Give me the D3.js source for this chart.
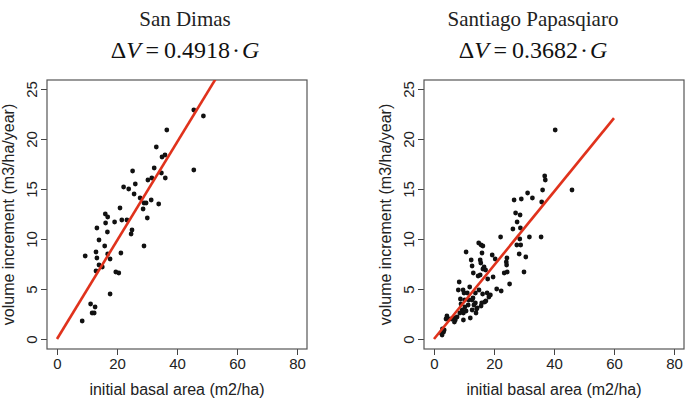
<!DOCTYPE html>
<html><head><meta charset="utf-8">
<script src="https://cdn.jsdelivr.net/npm/d3@7"></script>
<style>body{margin:0;background:#fff}svg{display:block}</style>
</head><body>
<script>
// Data
const xTicks = [0, 20, 40, 60, 80];
const yTicks = [0, 5, 10, 15, 20, 25];
const titles = ["San Dimas", "Santiago Papasqiaro"];
const coefs = ["0.4918", "0.3682"];
const slopes = [0.4918, 0.3682];
const lineEnds = [60, 60];
const xLabel = "initial basal area (m2/ha)";
const yLabel = "volume increment (m3/ha/year)";

const sanDimasG = [8.4,11.2,12.7,11.7,12.4,17.7,9.4,13.0,13.3,14.0,13.0,15.1,16.9,17.7,15.9,14.0,13.3,16.8,16.2,16.1,16.9,19.2,19.6,20.6,21.3,21.0,21.6,23.3,22.2,23.9,25.2,26.1,25.7,25.0,24.7,27.7,28.7,29.0,29.7,30.1,29.0,30.3,31.6,31.4,32.4,33.1,33.9,34.8,35.0,36.0,36.1,36.6,45.6,48.8,45.6];
const sanDimasV = [1.8,3.5,3.2,2.6,2.6,4.5,8.3,8.7,8.1,7.4,6.8,7.2,8.5,8.0,9.3,9.9,11.1,10.7,11.6,12.5,12.2,11.7,6.7,6.6,8.6,13.1,11.9,11.9,15.2,15.0,16.8,15.5,14.5,10.9,10.5,14.1,13.0,13.6,13.6,12.1,9.3,15.9,16.1,13.9,17.1,19.2,13.5,16.6,18.2,18.4,16.1,20.9,22.9,22.3,16.9];

const santiagoG = [40.4,46.0,36.9,37.1,36.2,35.9,35.7,31.2,32.8,29.1,26.7,27.2,28.7,27.7,28.8,26.3,28.6,31.8,27.6,28.9,28.4,30.6,30.0,22.2,20.4,19.4,24.3,24.1,24.2,23.4,24.4,25.2,22.4,14.9,15.7,16.3,10.7,16.0,15.4,15.6,12.7,16.7,16.3,17.2,15.4,14.7,13.1,17.9,19.7,8.4,8.1,9.7,10.0,11.1,13.8,15.0,16.2,17.7,18.8,8.8,10.2,11.6,12.7,13.8,11.4,10.3,13.3,15.9,16.9,17.3,15.7,14.2,12.7,10.7,9.4,8.6,9.8,12.1,14.0,9.8,6.7,6.8,7.1,7.7,4.3,5.0,5.8,4.0,2.8,3.2,2.4,2.7,3.4,12.4,13.0,11.9,14.4,9.0,18.3,20.9];
const santiagoV = [20.9,14.9,16.3,15.9,14.9,13.7,10.2,14.6,14.1,14.0,13.9,12.6,12.4,11.7,11.1,11.0,10.0,10.2,9.4,9.4,8.5,8.2,6.7,10.2,8.0,8.4,8.1,7.7,7.4,6.6,6.7,5.5,4.8,9.6,9.4,9.3,8.7,8.6,7.9,7.6,7.3,7.2,7.0,6.9,6.4,6.3,6.6,6.0,6.2,5.7,4.9,4.9,4.6,4.6,4.6,4.9,4.5,4.6,4.4,4.0,3.9,3.9,3.9,3.6,3.4,3.2,3.4,3.6,3.7,3.8,3.3,3.0,2.9,2.8,2.9,2.6,2.6,2.1,2.6,1.9,2.1,1.7,1.9,2.2,2.3,2.0,2.0,2.0,1.0,0.7,0.6,0.4,0.9,7.9,4.1,5.2,3.1,3.5,4.2,5.0];

const panels = [
  {G: sanDimasG, V: sanDimasV, left: 47, titleX: 185},
  {G: santiagoG, V: santiagoV, left: 424, titleX: 533}
];

const W = 685, H = 400;
const boxW = 260, boxTop = 80, boxBottom = 349;
const svg = d3.select("body").append("svg").attr("width", W).attr("height", H);

panels.forEach((p, i) => {
  const x = d3.scaleLinear().domain([-10/3, 250/3]).range([p.left, p.left + boxW]);
  const y = d3.scaleLinear().domain([-1, 25.9]).range([boxBottom, boxTop]);
  const g = svg.append("g");
  const tickCol = "#444";

  // titles
  g.append("text").attr("x", p.titleX).attr("y", 26).attr("text-anchor", "middle")
    .attr("font-family", "Liberation Serif, serif").attr("font-size", 21).attr("fill", "#222")
    .text(titles[i]);
  const f = g.append("text").attr("x", p.titleX).attr("y", 58).attr("text-anchor", "middle")
    .attr("font-family", "Liberation Serif, serif").attr("font-size", 24).attr("fill", "#111");
  f.append("tspan").text("\u0394");
  f.append("tspan").attr("font-style", "italic").text("V");
  f.append("tspan").text("\u2009=\u2009" + coefs[i] + "\u200A\u00B7\u200A");
  f.append("tspan").attr("font-style", "italic").text("G");

  // clip
  const cid = "clip" + i;
  svg.append("clipPath").attr("id", cid).append("rect")
    .attr("x", p.left).attr("y", boxTop).attr("width", boxW).attr("height", boxBottom - boxTop);

  // x axis
  const xa = g.append("g").attr("transform", `translate(0,${boxBottom})`)
    .call(d3.axisBottom(x).tickValues(xTicks).tickSize(6).tickPadding(3));
  xa.select(".domain").remove();
  xa.selectAll("line").attr("stroke", tickCol);
  xa.selectAll("text").attr("font-family", "Liberation Sans, Arial, sans-serif").attr("font-size", 15).attr("fill", "#222");

  // y axis
  const ya = g.append("g").attr("transform", `translate(${p.left},0)`)
    .call(d3.axisLeft(y).tickValues(yTicks).tickSize(6).tickPadding(4));
  ya.select(".domain").remove();
  ya.selectAll("line").attr("stroke", tickCol);
  ya.selectAll("text").attr("font-family", "Liberation Sans, Arial, sans-serif").attr("font-size", 15).attr("fill", "#222")
    .attr("text-anchor", "middle")
    .attr("transform", "translate(-15,0) rotate(-90)")
    .attr("x", 0).attr("y", 0).attr("dy", "0.35em");

  // box
  g.append("rect").attr("x", p.left).attr("y", boxTop).attr("width", boxW).attr("height", boxBottom - boxTop)
    .attr("fill", "none").attr("stroke", "#555").attr("stroke-width", 1.2);

  // axis titles
  g.append("text").attr("x", x(40)).attr("y", 395).attr("text-anchor", "middle")
    .attr("font-family", "Liberation Sans, Arial, sans-serif").attr("font-size", 16).attr("fill", "#222")
    .text(xLabel);
  g.append("text").attr("transform", `translate(${p.left - 33},${(boxTop + boxBottom) / 2}) rotate(-90)`)
    .attr("text-anchor", "middle")
    .attr("font-family", "Liberation Sans, Arial, sans-serif").attr("font-size", 16).attr("fill", "#222")
    .text(yLabel);

  // points
  const pts = p.G.map((v, k) => [v, p.V[k]]);
  g.append("g").selectAll("circle").data(pts).join("circle")
    .attr("cx", d => x(d[0])).attr("cy", d => y(d[1])).attr("r", 2.4).attr("fill", "#111");

  // regression line
  const line = d3.line().x(d => x(d)).y(d => y(slopes[i] * d));
  g.append("path").attr("clip-path", `url(#${cid})`).datum([0, lineEnds[i]])
    .attr("d", line).attr("stroke", "#e0321c").attr("stroke-width", 2.6).attr("fill", "none");
});
</script>
</body></html>
